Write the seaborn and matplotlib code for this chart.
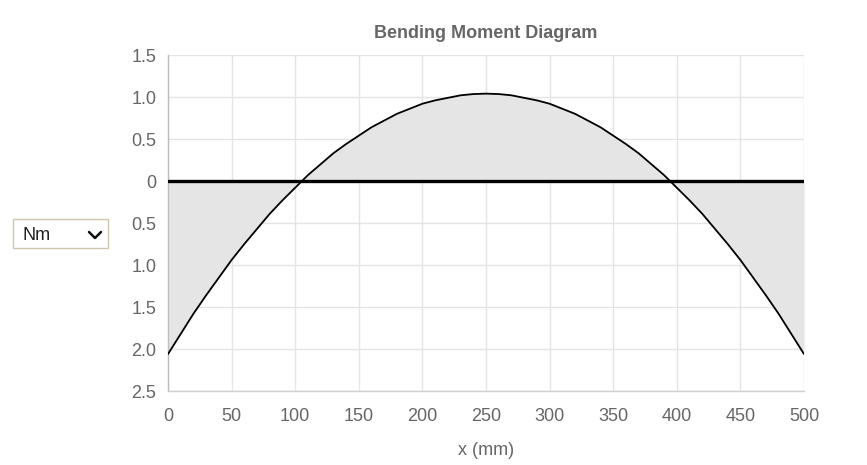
import numpy as np
import pandas as pd
import matplotlib
matplotlib.use("Agg")
import matplotlib.pyplot as plt
import seaborn as sns
from matplotlib.patches import Rectangle
from matplotlib.lines import Line2D

# Bending moment values (Nm), every 10 mm
x_mm = [0, 10, 20, 30, 40, 50, 60, 70, 80, 90, 100, 110, 120, 130, 140, 150, 160, 170,
        180, 190, 200, 210, 220, 230, 240, 250, 260, 270, 280, 290, 300, 310, 320, 330,
        340, 350, 360, 370, 380, 390, 400, 410, 420, 430, 440, 450, 460, 470, 480, 490, 500]
moment = [-2.06, -1.82, -1.58, -1.36, -1.15, -0.94, -0.75, -0.57, -0.39, -0.23, -0.08,
          0.07, 0.20, 0.33, 0.44, 0.54, 0.64, 0.72, 0.80, 0.86, 0.92, 0.96, 0.99, 1.02,
          1.035, 1.04, 1.035, 1.02, 0.99, 0.96, 0.92, 0.86, 0.80, 0.72, 0.64, 0.54, 0.44,
          0.33, 0.20, 0.07, -0.08, -0.23, -0.39, -0.57, -0.75, -0.94, -1.15, -1.36, -1.58,
          -1.82, -2.06]
y_ticks = [1.5, 1.0, 0.5, 0, -0.5, -1.0, -1.5, -2.0, -2.5]
y_tick_labels = ["1.5", "1.0", "0.5", "0", "0.5", "1.0", "1.5", "2.0", "2.5"]
x_ticks = [0, 50, 100, 150, 200, 250, 300, 350, 400, 450, 500]

df = pd.DataFrame({"x": x_mm, "M": moment})

sns.set_style("white")
plt.rcParams["font.family"] = ["Liberation Sans", "DejaVu Sans"]

grid_c = "#e4e4e4"
text_c = "#666666"
fs = 13

fig = plt.figure(figsize=(8.67, 4.65), dpi=100)
ax = fig.add_axes([168 / 867, 1 - 391 / 465, (804 - 168) / 867, (391 - 55) / 465])

ax.fill_between(df["x"], df["M"], 0, color="#e5e5e5", linewidth=0, zorder=1)
sns.lineplot(data=df, x="x", y="M", color="black", linewidth=1.3, ax=ax, zorder=3)
ax.axhline(0, color="black", linewidth=2.4, zorder=4)

ax.set_xlim(0, 500)
ax.set_ylim(-2.5, 1.5)
ax.set_xticks(x_ticks)
ax.set_yticks(y_ticks)
ax.set_yticklabels(y_tick_labels)
ax.grid(True, color=grid_c, linewidth=1, zorder=0)
ax.set_axisbelow(True)

for s in ["top", "right"]:
    ax.spines[s].set_visible(False)
ax.spines["left"].set_color("#bdbdbd")
ax.spines["bottom"].set_color("#d0d0d0")
ax.spines["left"].set_linewidth(1)
ax.spines["bottom"].set_linewidth(1)

ax.tick_params(axis="both", length=6.5, width=1, color=grid_c, labelcolor=text_c,
               labelsize=fs)
ax.tick_params(axis="x", pad=6)
ax.tick_params(axis="y", pad=2)
for t in ax.yaxis.get_major_ticks():
    if t.get_loc() == 0:
        t.tick1line.set_color("black")
        t.tick1line.set_markeredgewidth(2.4)

ax.set_xlabel("x (mm)", color=text_c, fontsize=fs, labelpad=12)
ax.set_ylabel("")
ax.set_title("Bending Moment Diagram", color=text_c, fontsize=fs,
             fontweight="bold", pad=12)

# unit selector box
fig.add_artist(Rectangle((13 / 867, 1 - 248 / 465), 95 / 867, 29 / 465,
                         transform=fig.transFigure, facecolor="white",
                         edgecolor="#cfc6ad", linewidth=1))
fig.text(22 / 867, 1 - 235 / 465, "Nm", fontsize=fs, color="#222222",
         va="center", ha="left")
fig.add_artist(Line2D([89 / 867, 95 / 867, 101 / 867],
                      [1 - 232 / 465, 1 - 238 / 465, 1 - 232 / 465],
                      transform=fig.transFigure, color="#111111", linewidth=1.8))

fig.savefig("out.png", dpi=100)
